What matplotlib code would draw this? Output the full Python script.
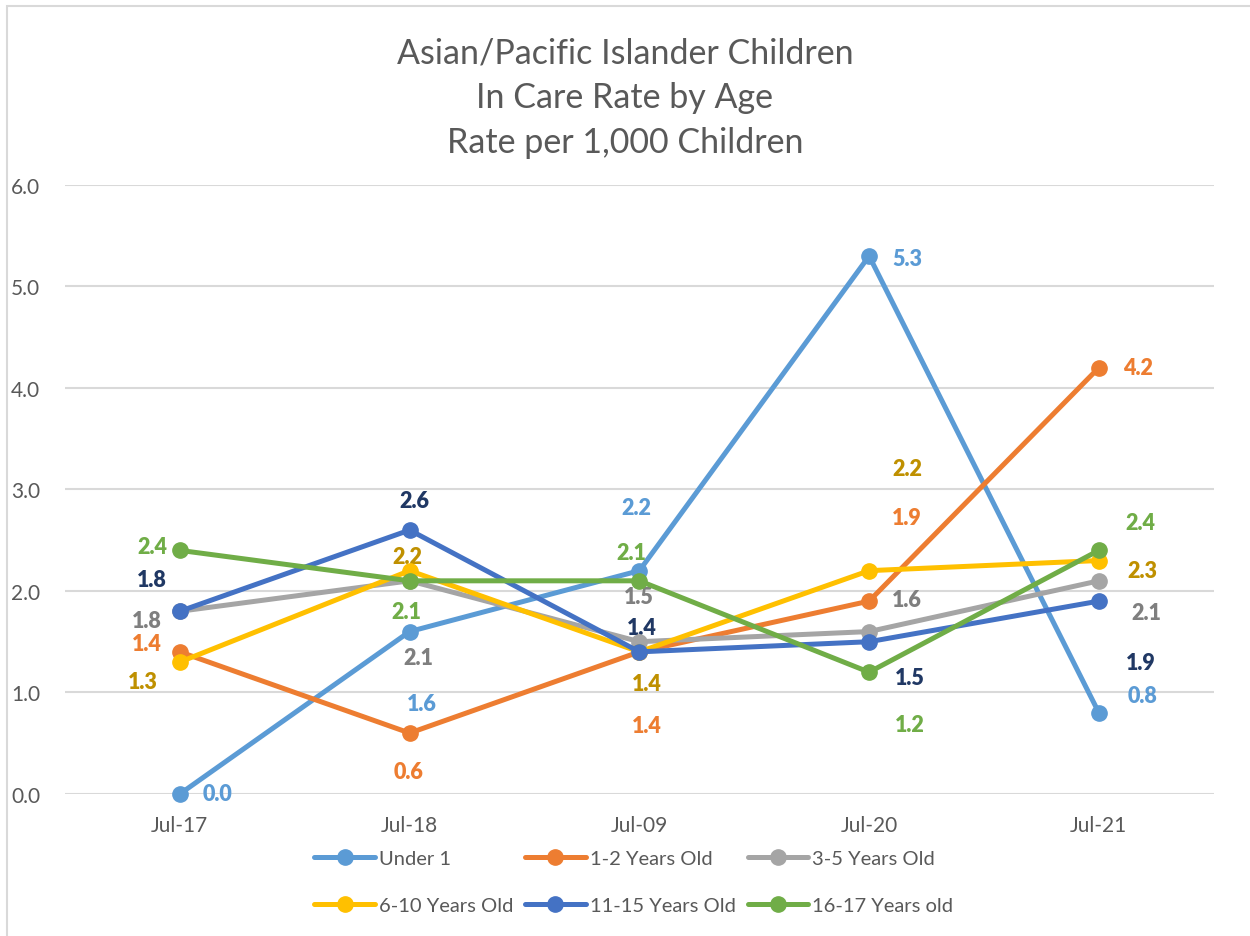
import matplotlib
matplotlib.use("Agg")
import matplotlib.pyplot as plt
from matplotlib.patches import Rectangle

plt.rcParams['font.family'] = ['Lato', 'DejaVu Sans']

# data
meses = ['Jul-17', 'Jul-18', 'Jul-09', 'Jul-20', 'Jul-21']
series_names = ['Under 1', '1-2 Years Old', '3-5 Years Old',
                '6-10 Years Old', '11-15 Years Old', '16-17 Years old']
under_1 = [0.0, 1.6, 2.2, 5.3, 0.8]
anios_1_2 = [1.4, 0.6, 1.4, 1.9, 4.2]
anios_3_5 = [1.8, 2.1, 1.5, 1.6, 2.1]
anios_6_10 = [1.3, 2.2, 1.4, 2.2, 2.3]
anios_11_15 = [1.8, 2.6, 1.4, 1.5, 1.9]
anios_16_17 = [2.4, 2.1, 2.1, 1.2, 2.4]
valores = [under_1, anios_1_2, anios_3_5, anios_6_10, anios_11_15, anios_16_17]

line_colors = ['#5B9BD5', '#ED7D31', '#A5A5A5', '#FFC000', '#4472C4', '#70AD47']
label_colors = ['#5B9BD5', '#ED7D31', '#7F7F7F', '#BF9000', '#203864', '#70AD47']

# label offsets in pixels (dx, dy with dy positive = up)
label_offsets = [
  [(38, 0), (12, -72), (-3, 63), (38, -2), (44, 17)],
  [(-33, 8), (-1, -38), (7, -74), (38, 84), (39, 0)],
  [(-33, -9), (9, -77), (-1, 45), (38, 32), (47, -32)],
  [(-37, -19), (-2, 14), (7, -32), (38, 102), (44, -10)],
  [(-28, 32), (5, 30), (2, 24), (41, -36), (42, -61)],
  [(-28, 4), (-3, -31), (-8, 28), (41, -52), (42, 28)],
]

texto = '#595959'
fig = plt.figure(figsize=(12.5, 9.37), dpi=100)
ax = fig.add_axes([0.052, 0.1516, 0.919, 0.6499])

x = range(len(meses))
lineas = []
for i in range(len(valores)):
  l, = ax.plot(x, valores[i], '-', color=line_colors[i], linewidth=3.6,
               marker='o', markersize=11, label=series_names[i],
               solid_capstyle='round', zorder=3 + i, clip_on=False)
  lineas.append(l)
  for j, v in enumerate(valores[i]):
    dx, dy = label_offsets[i][j]
    ax.annotate('{:.1f}'.format(v), (j, v), xytext=(dx, dy),
                textcoords='offset pixels', ha='center', va='center',
                fontsize=15.5, fontweight='heavy', color=label_colors[i])

ax.set_xlim(-0.5, 4.5)
ax.set_ylim(0, 6)
ax.set_yticks([0, 1, 2, 3, 4, 5, 6])
ax.set_yticklabels(['{:.1f}'.format(t) for t in range(7)])
ax.set_xticks(list(x))
ax.set_xticklabels(meses)
ax.tick_params(length=0, labelsize=15, labelcolor=texto)
ax.tick_params(axis='y', pad=18)
ax.tick_params(axis='x', pad=15)
ax.grid(axis='y', color='#D9D9D9', linewidth=1.5)
ax.set_axisbelow(True)
for s in ax.spines.values():
  s.set_visible(False)

fig.text(0.5, 0.895, 'Asian/Pacific Islander Children\nIn Care Rate by Age\nRate per 1,000 Children',
         ha='center', va='center', fontsize=24.5, color=texto, linespacing=1.5)

# legend filled row by row like the original
orden = [0, 3, 1, 4, 2, 5]
fig.legend([lineas[k] for k in orden], [series_names[k] for k in orden],
           loc='center', bbox_to_anchor=(0.507, 0.0576), ncol=3, frameon=False,
           fontsize=14.5, handlelength=3.0, labelspacing=1.45, columnspacing=0.6,
           handletextpad=0.2, labelcolor=texto)

fig.patches.append(Rectangle((7 / 1250, -0.01), 1.1, 1 - 7 / 937 + 0.01,
                             transform=fig.transFigure, fill=False,
                             edgecolor='#D9D9D9', linewidth=1.5))

fig.savefig('out.png', dpi=100)
